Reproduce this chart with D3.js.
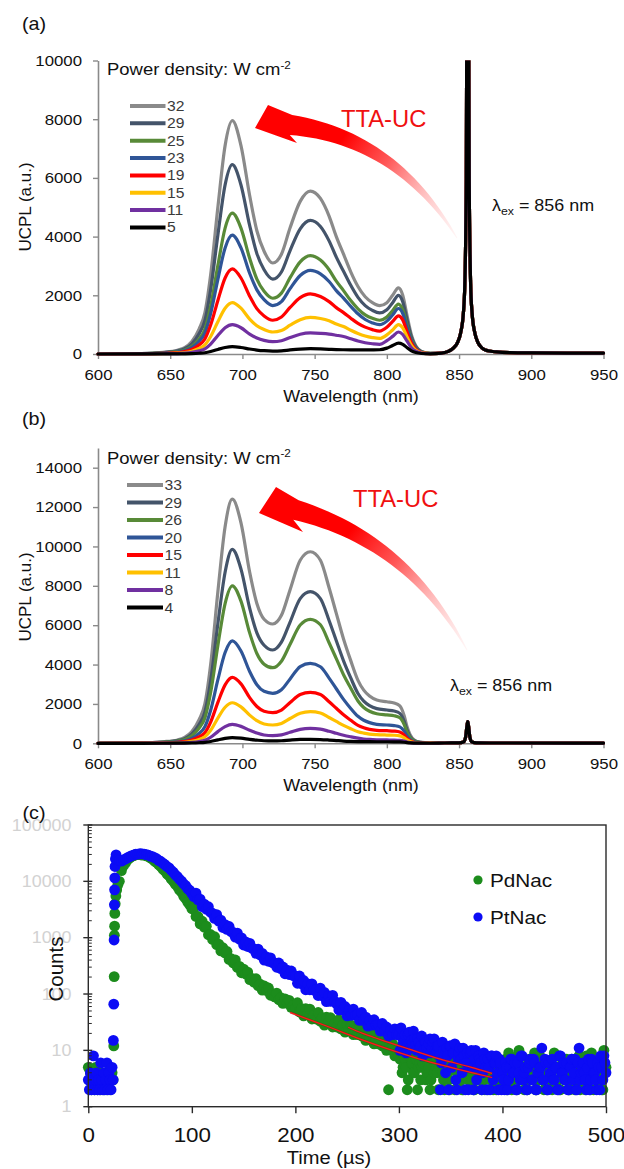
<!DOCTYPE html>
<html><head><meta charset="utf-8">
<script src="https://cdn.jsdelivr.net/npm/d3@7/dist/d3.min.js"></script>
<style>
body{margin:0;background:#fff}
svg{display:block}
text{font-family:"Liberation Sans",Arial,Helvetica,sans-serif}
</style></head><body>
<svg id="fig" width="624" height="1169"></svg>
<script>
// ================= DATA =================
// ---- panel (a) ----
const wavelengthA = [600,630,645,655,660,665,670,674,678,683,688,693,699,705,710,715,721,727,733,740,747,754,760,765,770,775,780,785,790,795,800,804,808,811,814,817,820,824,830];
const ucplA32 = [0,15,60,130,220,430,850,1400,2700,5000,7100,7950,7100,5400,4200,3500,3100,3400,4300,5200,5550,5300,4700,4000,3400,2800,2300,1950,1750,1650,1750,2000,2250,2000,1300,650,280,90,25];
const ucplA29 = [0,12,49,105,178,349,689,1135,2190,4055,5760,6450,5760,4380,3420,2870,2550,2795,3525,4265,4550,4345,3855,3300,2820,2340,1930,1650,1485,1400,1505,1750,2000,1780,1155,580,250,80,22];
const ucplA25 = [0,9,36,79,133,260,513,846,1630,3020,4290,4800,4290,3260,2550,2135,1900,2075,2600,3140,3350,3200,2870,2480,2160,1820,1540,1335,1215,1150,1260,1480,1700,1510,980,490,210,68,19];
const ucplA23 = [0,8,31,66,112,219,433,713,1375,2545,3615,4050,3615,2750,2185,1850,1650,1785,2225,2675,2850,2730,2470,2160,1905,1625,1370,1175,1060,1000,1120,1330,1550,1380,895,450,195,62,17];
const ucplA19 = [0,5,22,47,80,157,310,511,985,1825,2590,2900,2590,1970,1545,1295,1150,1260,1585,1920,2050,1960,1785,1580,1410,1220,1045,915,830,780,910,1110,1300,1155,750,375,160,52,14];
const ucplA15 = [0,3,13,29,48,95,187,308,594,1100,1560,1750,1560,1190,965,835,750,800,980,1170,1250,1210,1130,1020,935,810,700,615,560,530,650,820,1000,890,580,290,125,40,11];
const ucplA11 = [0,2,8,16,28,54,107,176,340,630,895,1000,895,680,545,465,420,450,560,675,720,705,680,640,595,520,445,385,350,330,455,600,750,665,435,215,95,30,8];
const ucplA5  = [0,1,2,4,7,13,26,43,84,155,220,250,222,170,135,112,100,108,138,166,180,172,160,150,145,142,140,138,140,145,200,290,370,330,215,110,50,18,6];
const excWavelengthA = [838,842,846,849,851,853,854,855,855.5,856,856.5,857,858,859,861,863,866,870,876,885,900,925,950];
const excUcplA = [30,80,200,400,700,1400,2400,6000,14000,30000,14000,6000,2400,1400,700,400,200,110,70,45,35,30,30];
const powerA = ["32","29","25","23","19","15","11","5"];
const ticksA = [0,2000,4000,6000,8000,10000];

// ---- panel (b) ----
const wavelengthB = [600,630,645,655,660,665,670,674,678,683,688,693,699,705,710,715,721,727,733,740,747,754,760,765,770,775,780,784,788,793,800,805,809,812,814,816,819,823,830];
const ucplB33 = [0,20,80,170,300,600,1200,2000,4000,7700,11000,12400,11200,8700,7100,6300,6060,6500,7800,9300,9730,9300,7900,6600,5300,4200,3200,2700,2400,2200,2110,2050,1900,1400,840,450,170,60,20];
const ucplB29 = [0,16,63,134,237,474,948,1580,3160,6080,8690,9850,8850,6870,5610,4980,4740,5140,6160,7350,7700,7350,6240,5210,4190,3320,2530,2140,1910,1760,1690,1640,1520,1120,670,360,135,48,16];
const ucplB26 = [0,13,52,110,194,387,774,1290,2580,4970,7100,8000,7220,5610,4560,4020,3840,4170,5030,6010,6300,6020,5110,4300,3480,2800,2150,1820,1630,1500,1440,1400,1300,950,570,305,115,40,14];
const ucplB20 = [0,8,34,71,126,251,503,838,1680,3230,4610,5200,4690,3650,2975,2640,2540,2720,3270,3900,4060,3890,3310,2770,2230,1770,1370,1170,1050,965,930,900,835,615,370,200,75,26,9];
const ucplB15 = [0,5,22,46,81,162,324,540,1080,2080,2970,3350,3020,2320,1870,1630,1560,1690,2070,2480,2590,2480,2110,1780,1450,1170,910,790,710,660,640,620,570,420,250,135,51,18,6];
const ucplB11 = [0,3,13,28,50,100,199,332,664,1280,1830,2060,1850,1430,1150,980,930,1010,1260,1530,1610,1540,1310,1110,910,740,590,520,470,440,420,410,380,280,170,90,34,12,4];
const ucplB8  = [0,2,6,13,23,46,92,154,308,593,847,960,860,660,520,420,390,430,560,710,760,720,610,510,410,330,260,220,195,178,170,165,150,110,67,36,14,5,2];
const ucplB4  = [0,1,2,4,7,14,28,46,92,177,253,290,260,200,160,130,120,130,165,195,200,190,165,140,115,100,90,85,82,80,78,75,70,55,35,20,10,5,2];
const excWavelengthB = [840,850,853,854.5,855.5,856,856.5,857.5,859,862,880,950];
const excUcplB = [15,20,60,300,900,1100,900,300,60,20,15,10];
const powerB = ["33","29","26","20","15","11","8","4"];
const ticksB = [0,2000,4000,6000,8000,10000,12000,14000];

const ticksWavelength = [600,650,700,750,800,850,900,950];

// ---- panel (c) : counts ----
// baseline before excitation, 1 us steps from t = 0
const pdBase = [5,3,4,2,3,4,2,5,3,2,4,3,2,3,4,2,3,4,2,3,4,2,3,4,3];
const ptBase = [3,2,4,2,3,8,2,3,4,2,3,2,6,3,2,4,2,3,6,2,4,3,2,5,3];
// rising edge
const pdRiseT = [24.6,25,25.2,25.4,25.6,26,26.6,27.4,28.4];
const pdRiseC = [12,204,1100,1600,2700,4000,5500,7000,8500];
const ptRiseT = [24.2,24.6,24.9,25.2,25.4,25.6,25.8,26.2,26.8,28];
const ptRiseC = [15,66,910,3830,7060,11500,18300,25000,29600,24500];
// decay, 2 us steps from t = 30 us (even times)
const pdDecay30 = [10000,15500,18900,21200,24300,26000,27800,28500,30100,29800,30500,29200,29600,28200,27800,26000,24800,22900,21700,19800,18400,16400,15300,13600,12600,11000,10100,8900,8150,7050,6400,5480,4980,4250,3820,3260];
const pdDecay102 = [3357,2377,2380,1754,1959,1542,1600,1127,1138,933,1038,752,769,581,664,535,568,409,423,355,402,296,309,238,277,227,245,180,190,162,187,141,149,117,139,116,128,95,102,89,104,79,86,68,82,69,77,58,63,55];
const pdDecay202 = [70,48,55,41,55,44,54,36,42,36,47,33,38,28,39,31,38,26,30,26,35,24,28,21,29,23,28,19,23,19,25,18,20,15,21,16,20,13,15,13,17,12,13,10,2,11,13,8,10,8];
const pdDecay302 = [9,5,7,2,8,6,4,7,2,6,5,8,3,6,2,7,4,5,2,6,4,2,6,3,5,7,2,4,6,3,2,5,4,7,3,2,6,4,5,2,3,6,2,4,5,3,2,7,4,3,5,2,9,4,3,6,2,10,4,5,3,2,7,4,6,2,3,8,5,2,4,6,3,2,9,5,3,2,6,4,7,2,3,5,2,4,8,3,6,2,5,3,9,2,4,6,3,2,10,5];
const ptDecay30 = [23400,22800,24100,25000,26400,27400,28600,29400,30300,30400,31000,30700,30500,29800,29300,28100,27300,26200,25200,23600,22500,21000,19800,18300,17300,15700,14600,13100,12100,10900,10100,9050,8400,7420,6900,6100];
const ptDecay102 = [5346,6166,4699,4853,3548,3945,3192,3548,2831,2704,2198,2559,1968,2051,1514,1706,1400,1578,1276,1236,1019,1202,938,991,741,843,698,794,649,634,527,628,494,527,398,457,382,439,361,356,298,356,282,302,229,264,222,256,212,210];
const ptDecay202 = [155,209,152,174,119,151,119,151,117,118,94,127,93,107,73,93,74,95,74,66,52,71,52,60,41,52,42,54,42,43,34,47,34,39,27,34,28,35,28,29,22,30,22,26,18,23,19,24,19,19];
const ptDecay302 = [25,13,19,12,21,15,22,12,16,11,18,10,14,9,16,11,16,9,12,2,14,8,11,2,12,9,13,2,9,7,11,2,9,5,10,2,10,5,7,2,9,5,7,2,8,6,8,2,6,4,2,5,3,7,4,6,2,4,8,3,5,2,6,3,7,2,4,5,11,3,6,2,4,7,3,5,2,8,4,3,6,2,5,3,7,2,11,4,6,3,5,2,7,4,3,6,2,5,8,4];
// tail, odd times 301 ... 499 us
const pdTailOdd = [7,4,8,5,3,9,6,4,7,5,3,6,8,4,5,3,7,6,4,5,6,3,5,4,2,6,5,3,4,6,2,4,5,3,6,4,2,5,3,4,6,2,4,5,3,2,4,6,3,5,4,7,3,5,2,6,4,8,3,5,2,4,6,3,5,9,2,4,7,3,5,2,6,4,3,8,5,2,4,6,3,5,2,7,4,3,6,2,5,4,8,3,2,6,4,5,3,7,2,4];
const ptTailOdd = [10,17,14,9,19,11,13,16,10,14,12,8,15,11,13,9,14,10,12,8,6,10,4,8,12,5,9,3,7,11,4,8,6,2,9,5,7,3,8,6,4,7,2,5,8,3,6,4,7,2,3,6,2,5,7,4,2,6,3,8,4,2,5,7,3,6,2,4,5,3,7,2,6,4,3,5,2,8,4,6,3,2,5,7,4,2,6,3,5,4,2,7,3,6,4,2,5,8,3,6];
// tail fits
const pdFitT = [195,210,230,260,290,320,350,390];
const pdFitC = [47,37,27,16.5,10.5,7,5,3.3];
const ptFitT = [251,265,280,310,340,370,390];
const ptFitC = [25.7,20,16,10.5,7,5,3.9];
const ticksTime = [0,100,200,300,400,500];
const ticksCounts = [1,10,100,1000,10000,100000];

// ================= STYLE =================
const S = 1.12; // horizontal glyph stretch of the original figure
const specColors = ["#8a8a8a","#44546A","#588A38","#2F5597","#FF0000","#FFC000","#7030A0","#000000"];
const axisGray = "#8a8a8a";
const svg = d3.select("#fig");
const defs = svg.append("defs");

function label(parent, x, y, str, o = {}) {
  const tr = `translate(${x},${y})` + (o.rotate ? ` rotate(${o.rotate})` : "") + ` scale(${o.sx ?? S},1)`;
  const g = parent.append("g").attr("transform", tr);
  const t = g.append("text").attr("font-size", o.size || 16).attr("fill", o.fill || "#111")
    .attr("text-anchor", o.anchor || "start");
  if (o.dy) t.attr("dy", o.dy);
  if (str !== null) t.text(str);
  return t;
}

function arrow(g, id, tip, top, barb, neck, ctrl, tail, w0) {
  const N = 30, lower = [], upper = [];
  for (let i = 0; i <= N; i++) {
    const t = i / N, u = 1 - t;
    const px = u*u*neck[0] + 2*u*t*ctrl[0] + t*t*tail[0];
    const py = u*u*neck[1] + 2*u*t*ctrl[1] + t*t*tail[1];
    const dx = 2*u*(ctrl[0]-neck[0]) + 2*t*(tail[0]-ctrl[0]);
    const dy = 2*u*(ctrl[1]-neck[1]) + 2*t*(tail[1]-ctrl[1]);
    const L = Math.hypot(dx, dy), nx = -dy / L, ny = dx / L;
    const w = (w0 * Math.pow(u, 0.9) + 0.8 * t) / 2;
    lower.push([px + nx*w, py + ny*w]);
    upper.push([px - nx*w, py - ny*w]);
  }
  const pts = [top, tip, barb].concat(lower, upper.reverse());
  const grad = defs.append("linearGradient").attr("id", id).attr("gradientUnits", "userSpaceOnUse")
    .attr("x1", neck[0]).attr("y1", neck[1]).attr("x2", tail[0]).attr("y2", tail[1]);
  [[0,"#ff0000",1],[0.25,"#ff0000",1],[0.5,"#ff3a3a",0.85],[0.75,"#ff9a9a",0.6],[1,"#ffd8d8",0.25]]
    .forEach(s => grad.append("stop").attr("offset", s[0]).attr("stop-color", s[1]).attr("stop-opacity", s[2]));
  g.append("path").attr("d", "M" + pts.map(p => p.join(",")).join("L") + "Z").attr("fill", `url(#${id})`);
}

function spectraPanel(cfg) {
  const g = svg.append("g");
  const x = d3.scaleLinear().domain([600, 950]).range([98, 603.5]);
  const y = d3.scaleLinear().domain([0, cfg.yMax]).range([cfg.y0, cfg.y0 - cfg.pxPerK * cfg.yMax / 1000]);
  const clipId = "clip" + cfg.id;
  defs.append("clipPath").attr("id", clipId).append("rect")
    .attr("x", 90).attr("y", y(cfg.yMax)).attr("width", 530).attr("height", cfg.y0 - y(cfg.yMax) + 12);

  const ax = g.append("g").attr("transform", `translate(0,${cfg.y0})`)
    .call(d3.axisBottom(x).tickValues(ticksWavelength).tickSize(5).tickSizeOuter(0).tickPadding(10));
  const ay = g.append("g").attr("transform", "translate(98,0)")
    .call(d3.axisLeft(y).tickValues(cfg.yTicks).tickSize(5).tickSizeOuter(0).tickPadding(9.3).tickFormat(d3.format("d")));
  [ax, ay].forEach(a => {
    a.attr("font-family", null).attr("font-size", null);
    a.select(".domain").attr("stroke", axisGray).attr("stroke-width", 1.6);
    a.selectAll(".tick line").attr("stroke", axisGray).attr("stroke-width", 1.4);
    a.selectAll(".tick text").attr("font-size", 15).attr("fill", "#111").attr("transform", `scale(${S},1)`);
  });

  const line = d3.line().x(d => x(d[0])).y(d => y(d[1])).curve(d3.curveMonotoneX);
  const lg = g.append("g").attr("clip-path", `url(#${clipId})`);
  cfg.series.forEach((vals, i) => {
    const pts = cfg.wl.map((w, j) => [w, vals[j]]).concat(cfg.excW.map((w, j) => [w, cfg.excV[j]]));
    lg.append("path").attr("d", line(pts)).attr("fill", "none").attr("stroke", specColors[i])
      .attr("stroke-width", 3.2).attr("stroke-linejoin", "round").attr("stroke-linecap", "round");
  });

  // panel letter & axis titles
  label(g, 22, cfg.letterY, cfg.letter, { size: 19, sx: 1.04 });
  label(g, 351, cfg.y0 + 48, "Wavelength (nm)", { size: 16, anchor: "middle" });
  label(g, 31, cfg.yLabelY, "UCPL (a.u.)", { size: 17, anchor: "middle", rotate: -90, sx: 1 });

  // legend
  const tt = label(g, 107, cfg.titleY, null, { size: 16.5 });
  tt.append("tspan").text("Power density: W cm");
  tt.append("tspan").attr("font-size", 10.5).attr("dy", -6.5).text("-2");
  cfg.powers.forEach((p, i) => {
    const yy = cfg.legY0 + i * cfg.legStep;
    g.append("line").attr("x1", cfg.legX1).attr("x2", cfg.legX2).attr("y1", yy).attr("y2", yy)
      .attr("stroke", specColors[i]).attr("stroke-width", 4);
    label(g, cfg.legX2 + 1.5, yy, p, { size: 14, fill: "#3a3a3a", dy: "0.36em" });
  });

  // annotations
  const a = cfg.arrow;
  arrow(g, "grad" + cfg.id, a.tip, a.top, a.barb, a.neck, a.ctrl, a.tail, 20);
  label(g, cfg.ttaX, cfg.ttaY, "TTA-UC", { size: 24, fill: "#f01010", sx: 0.99 });
  const lt = label(g, cfg.lamX, cfg.lamY, null, { size: 16 });
  lt.append("tspan").text("λ");
  lt.append("tspan").attr("font-size", 11).attr("dy", 4).text("ex");
  lt.append("tspan").attr("dy", -4).text(" = 856 nm");
}

spectraPanel({
  id: "a", letter: "(a)", letterY: 30, y0: 354, yMax: 10000, pxPerK: 29.35, yTicks: ticksA,
  wl: wavelengthA, excW: excWavelengthA, excV: excUcplA,
  series: [ucplA32, ucplA29, ucplA25, ucplA23, ucplA19, ucplA15, ucplA11, ucplA5],
  powers: powerA, titleY: 75, legY0: 106, legStep: 17.35, legX1: 130, legX2: 165.5, yLabelY: 207,
  arrow: { tip: [255,128], top: [268,105], barb: [297,143], neck: [291,125], ctrl: [396,138], tail: [457,238] },
  ttaX: 341, ttaY: 127, lamX: 492, lamY: 211
});
spectraPanel({
  id: "b", letter: "(b)", letterY: 425, y0: 743.3, yMax: 15000, pxPerK: 19.686, yTicks: ticksB,
  wl: wavelengthB, excW: excWavelengthB, excV: excUcplB,
  series: [ucplB33, ucplB29, ucplB26, ucplB20, ucplB15, ucplB11, ucplB8, ucplB4],
  powers: powerB, titleY: 463.5, legY0: 485, legStep: 17.5, legX1: 127, legX2: 163, yLabelY: 597,
  arrow: { tip: [259,513], top: [276,487], barb: [303,532], neck: [296,510], ctrl: [408,541], tail: [467,650] },
  ttaX: 353, ttaY: 507, lamX: 450, lamY: 691
});

// ================= PANEL (c) =================
(function () {
  const g = svg.append("g");
  const x = d3.scaleLinear().domain([0, 500]).range([88.3, 606]);
  const y = d3.scaleLog().domain([1, 100000]).range([1106.7, 825]);

  function build(base, riseT, riseC, decay, oddTail) {
    const pts = base.map((c, i) => [i, c]);
    riseT.forEach((t, i) => pts.push([t, riseC[i]]));
    decay.forEach((c, i) => pts.push([30 + 2 * i, c]));
    oddTail.forEach((c, i) => pts.push([301 + 2 * i, c]));
    return pts.sort((p, q) => p[0] - q[0]);
  }
  const pd = build(pdBase, pdRiseT, pdRiseC, pdDecay30.concat(pdDecay102, pdDecay202, pdDecay302), pdTailOdd);
  const pt = build(ptBase, ptRiseT, ptRiseC, ptDecay30.concat(ptDecay102, ptDecay202, ptDecay302), ptTailOdd);

  g.selectAll("circle.pd").data(pd).join("circle").attr("class", "pd")
    .attr("cx", d => x(d[0])).attr("cy", d => y(d[1])).attr("r", 5.4).attr("fill", "#1c8c1c");
  g.selectAll("circle.pt").data(pt).join("circle").attr("class", "pt")
    .attr("cx", d => x(d[0])).attr("cy", d => y(d[1])).attr("r", 5.4).attr("fill", "#0c0cf5");

  const fl = d3.line().x(d => x(d[0])).y(d => y(d[1])).curve(d3.curveMonotoneX);
  [[pdFitT, pdFitC], [ptFitT, ptFitC]].forEach(([T, C]) => {
    g.append("path").attr("d", fl(T.map((t, i) => [t, C[i]]))).attr("fill", "none")
      .attr("stroke", "#9a1010").attr("stroke-width", 2.2).attr("stroke-opacity", 0.5);
    g.append("path").attr("d", fl(T.map((t, i) => [t, C[i]]))).attr("fill", "none")
      .attr("stroke", "#ff1a1a").attr("stroke-width", 1.2);
  });

  // frame
  const x0 = x.range()[0], x1 = x.range()[1], y0 = y.range()[0], y1 = y.range()[1];
  g.append("rect").attr("x", x0).attr("y", y1).attr("width", x1 - x0).attr("height", y0 - y1)
    .attr("fill", "none").attr("stroke", "#2a2a2a").attr("stroke-width", 1.4);

  // x axis ticks & labels
  const ax = g.append("g").attr("transform", `translate(0,${y0})`)
    .call(d3.axisBottom(x).tickValues(ticksTime).tickSize(6.5).tickSizeOuter(0).tickPadding(14.5));
  ax.attr("font-family", null).attr("font-size", null);
  ax.select(".domain").remove();
  ax.selectAll(".tick line").attr("stroke", "#2a2a2a").attr("stroke-width", 1.4);
  ax.selectAll(".tick text").attr("font-size", 20).attr("fill", "#111").attr("transform", `scale(${S},1)`);

  // y axis: major + minor ticks, faint labels
  ticksCounts.forEach(v => {
    g.append("line").attr("x1", x0 - 5).attr("x2", x0 + 4).attr("y1", y(v)).attr("y2", y(v))
      .attr("stroke", "#2a2a2a").attr("stroke-width", 1.4);
    label(g, 71.5, y(v), d3.format("d")(v), { size: 16, fill: "#d2d2d2", anchor: "end", dy: "0.36em" });
  });
  ticksCounts.slice(0, -1).forEach(d => {
    for (let k = 2; k <= 9; k++) {
      g.append("line").attr("x1", x0).attr("x2", x0 + 3.5).attr("y1", y(k * d)).attr("y2", y(k * d))
        .attr("stroke", "#2a2a2a").attr("stroke-width", 1);
    }
  });

  label(g, 22.5, 819, "(c)", { size: 19, sx: 1.04 });
  label(g, 329, 1164, "Time (µs)", { size: 19, anchor: "middle", sx: 1.06 });
  label(g, 63, 969, "Counts", { size: 20.5, anchor: "middle", rotate: -90, sx: 1 });

  // legend
  [["PdNac", "#1c8c1c", 880], ["PtNac", "#0c0cf5", 917]].forEach(([name, col, yy]) => {
    g.append("circle").attr("cx", 478).attr("cy", yy).attr("r", 4.6).attr("fill", col);
    label(g, 490, yy, name, { size: 18.5, dy: "0.36em" });
  });
})();
</script></body></html>
